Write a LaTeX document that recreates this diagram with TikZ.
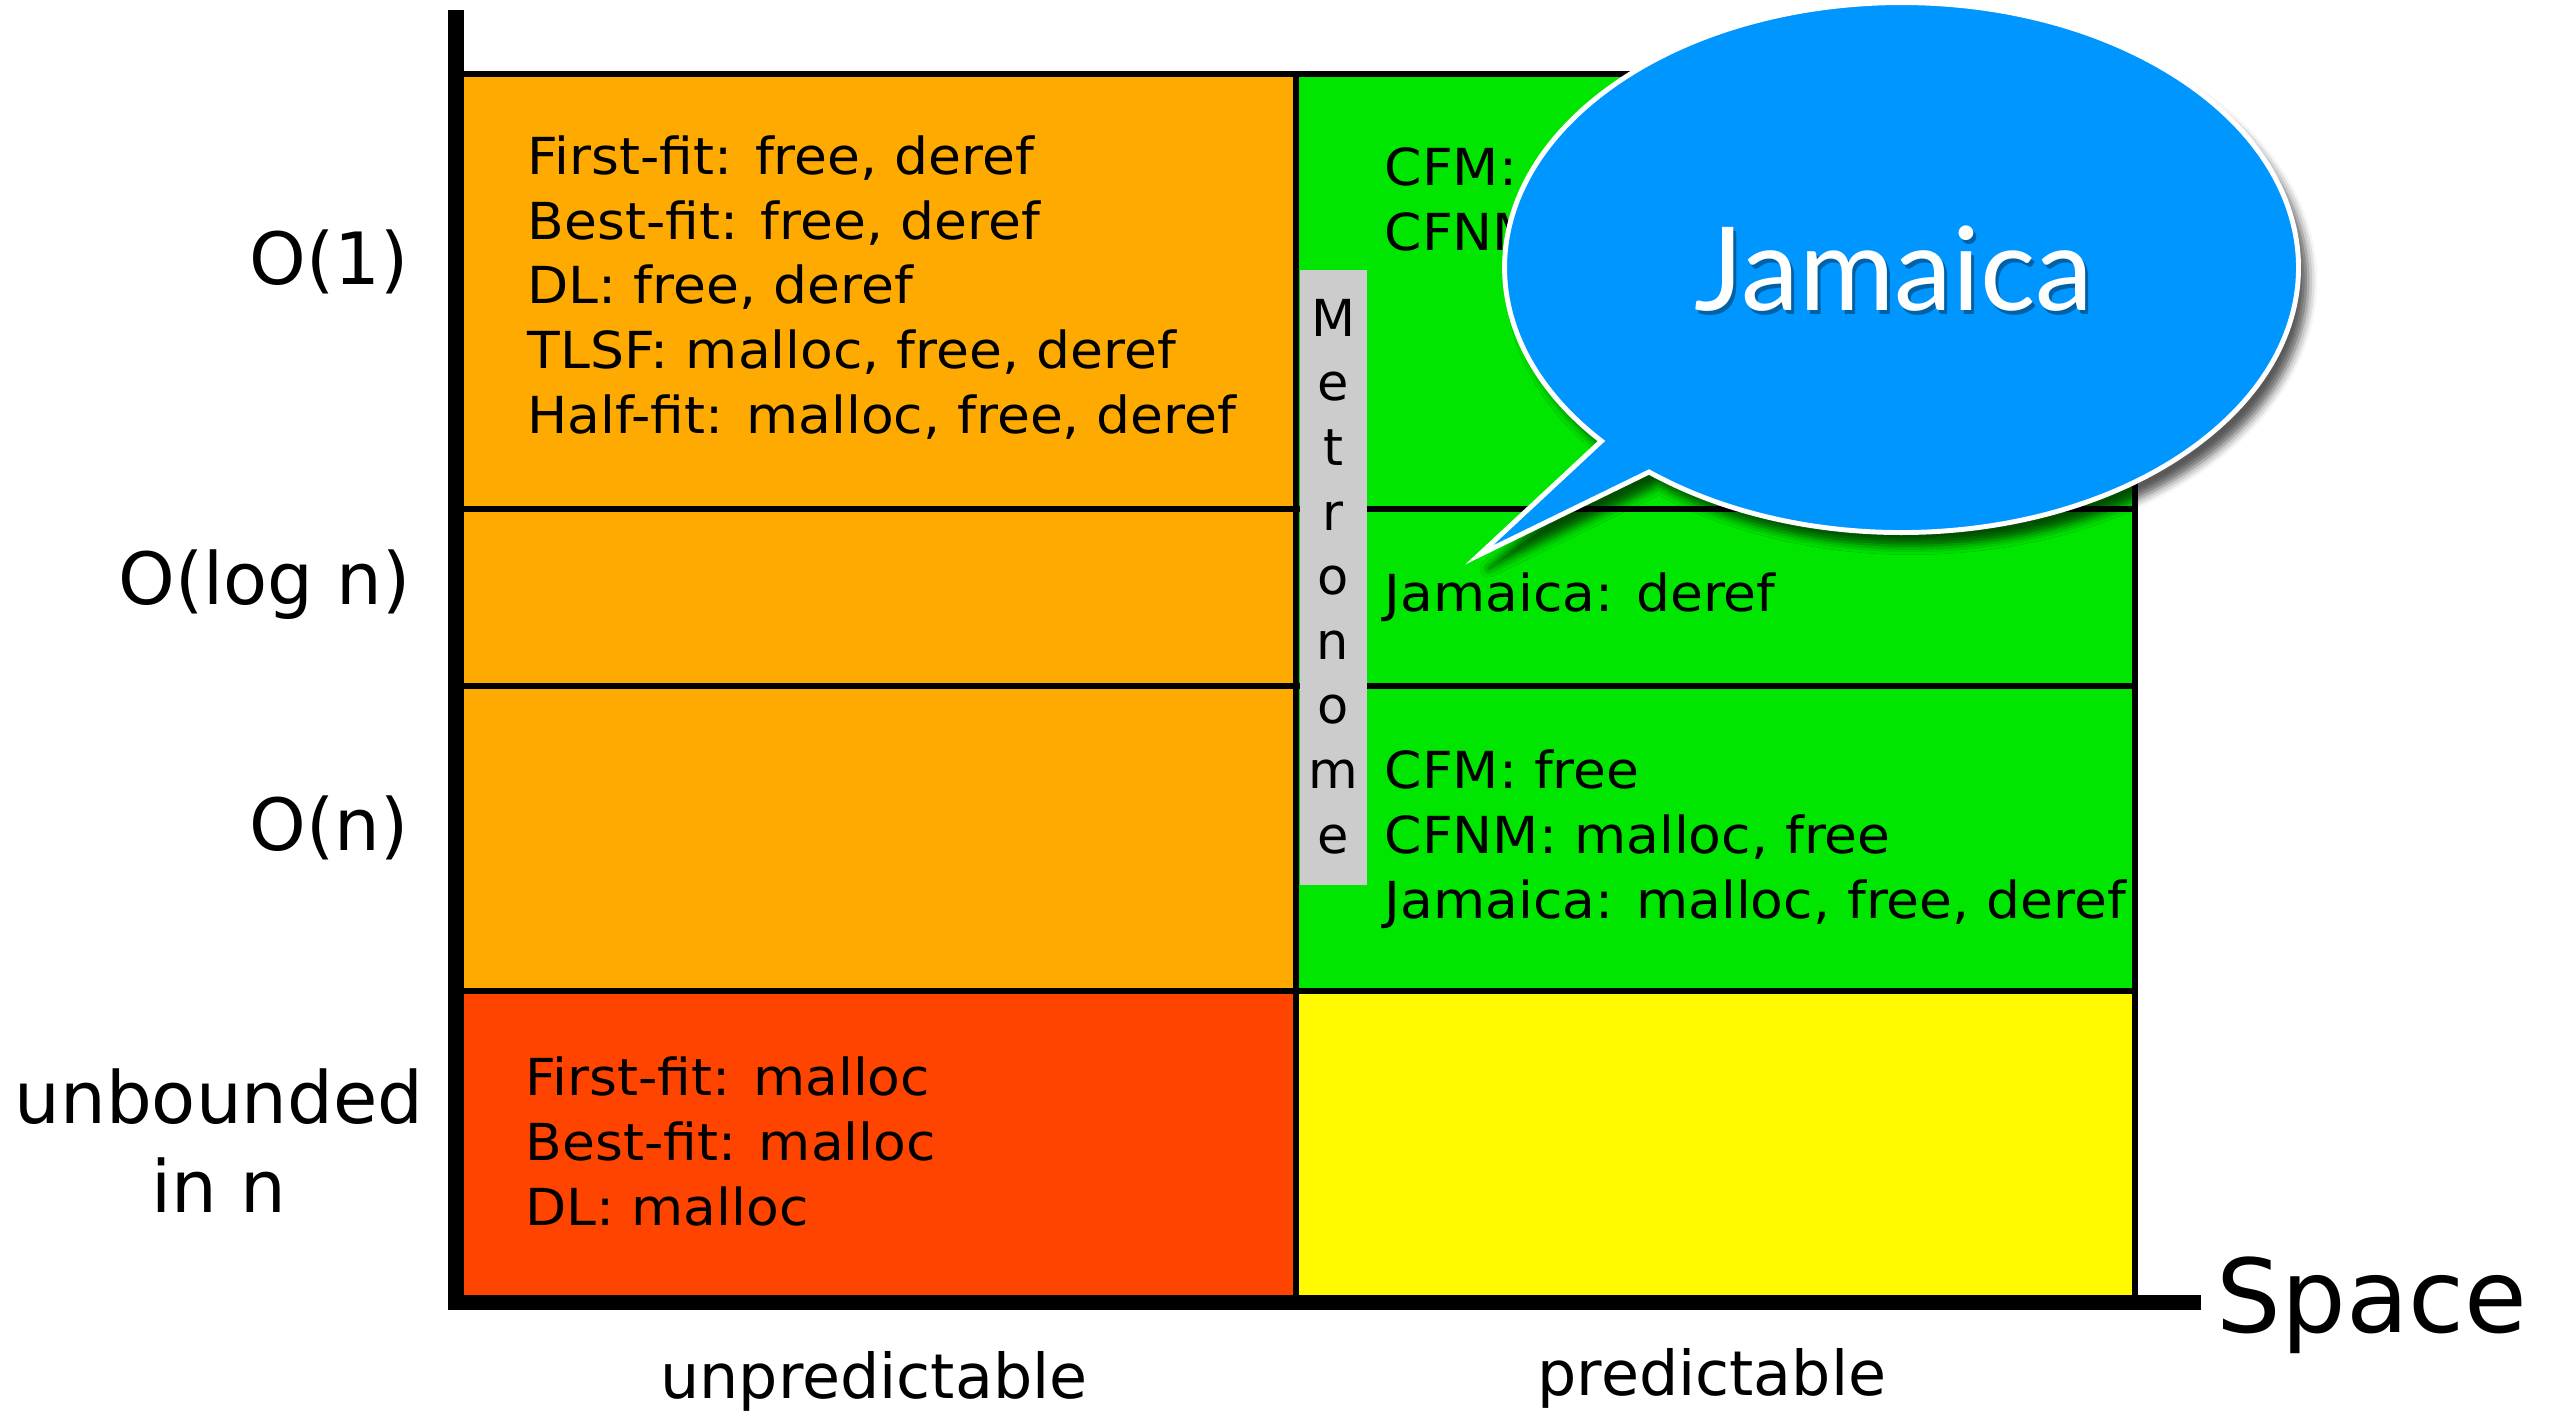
\documentclass[tikz,border=0pt]{standalone}
\usepackage{fontspec}
\setmainfont{DejaVu Sans}
\newfontfamily\cellfont{DejaVu Sans}[FakeStretch=1.05]
\newfontfamily\bubblefont{Lato}
\usetikzlibrary{shadows.blur}
\definecolor{corange}{RGB}{255,170,0}
\definecolor{cgreen}{RGB}{0,230,0}
\definecolor{cred}{RGB}{255,68,0}
\definecolor{cyellow}{RGB}{255,250,0}
\definecolor{cgrey}{RGB}{204,204,204}
\definecolor{cblue}{RGB}{0,150,255}
\tikzset{
  gridline/.style={line width=1.7pt, line cap=rect},
  celltext/.style={font=\cellfont\fontsize{14.5}{18.35}\selectfont, inner sep=0pt, align=left, anchor=base west},
  axislabel/.style={font=\fontsize{20.5}{25.3}\selectfont, inner sep=0pt},
  catlabel/.style={font=\fontsize{17.6}{21}\selectfont, inner sep=0pt, anchor=base},
}
\begin{document}
\begin{tikzpicture}[x=0.01cm,y=-0.01cm]
\useasboundingbox (0,0) rectangle (2561,1414);
% cells
\fill[corange] (464,74) rectangle (1296,991);
\fill[cgreen] (1296,74) rectangle (2135,991);
\fill[cred] (464,991) rectangle (1296,1303);
\fill[cyellow] (1296,991) rectangle (2135,1303);
% grid lines
\draw[gridline] (464,74) -- (2135,74) -- (2135,1303);
\draw[gridline] (1296,74) -- (1296,1303);
\draw[gridline] (464,509) -- (2135,509);
\draw[gridline] (464,686) -- (2135,686);
\draw[gridline] (464,991) -- (2135,991);
% axes
\fill[black] (448,10) rectangle (464,1310);
\fill[black] (448,1295) rectangle (2201,1310);
% metronome box
\fill[cgrey] (1300,270) rectangle (1367,885);
\node[font=\fontsize{14.5}{18.37}\selectfont, inner sep=0pt, align=center, anchor=base] (metro) at (1333,853)
  {M\\e\\t\\r\\o\\n\\o\\m\\e};
% cell texts (anchor = baseline of last line)
\node[celltext] (uo1) at (527,433) {First-fit: free, deref\\Best-fit: free, deref\\DL: free, deref\\TLSF: malloc, free, deref\\Half-fit: malloc, free, deref};
\node[celltext] (po1) at (1384,250) {CFM:\\CFNM:};
\node[celltext] (plog) at (1384,611) {Jamaica: deref};
\node[celltext] (pn) at (1384,918) {CFM: free\\CFNM: malloc, free\\Jamaica: malloc, free, deref};
\node[celltext] (uunb) at (525,1225) {First-fit: malloc\\Best-fit: malloc\\DL: malloc};
% axis labels
\node[axislabel, anchor=base east] (l1) at (409,284) {O(1)};
\node[axislabel, anchor=base east] (llog) at (411,604) {O(log n)};
\node[axislabel, anchor=base east] (ln) at (409,850) {O(n)};
\node[axislabel, anchor=base, align=center] (lunb) at (219,1212) {unbounded\\in n};
\node[catlabel] (unpred) at (874,1398) {unpredictable};
\node[catlabel] (pred) at (1712,1395) {predictable};
\node[font=\fontsize{29}{34}\selectfont, inner sep=0pt, anchor=base west] (space) at (2216,1332) {Space};
% speech bubble
\path[draw=white, line width=1.4pt, fill=cblue, line join=miter,
  blur shadow={shadow xshift=2.8pt, shadow yshift=-3.8pt, shadow blur radius=2.5pt, shadow opacity=65}]
  (1649,472) arc[start angle=129.5, end angle=-220.9, x radius=397, y radius=265] -- (1479,555) -- cycle;
\node[font=\bubblefont\fontsize{33}{40}\selectfont, text=black, opacity=0.35, inner sep=0pt, anchor=base] at (1897,314) {Jamaica};
\node[font=\bubblefont\fontsize{33}{40}\selectfont, text=white, inner sep=0pt, anchor=base] (jam) at (1894,310) {Jamaica};
\end{tikzpicture}
\end{document}
